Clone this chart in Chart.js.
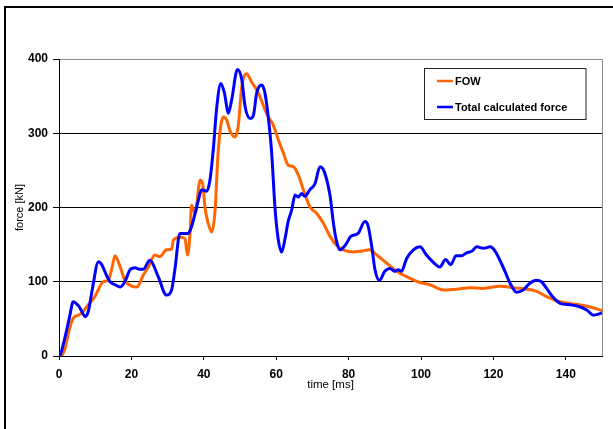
<!DOCTYPE html>
<html>
<head>
<meta charset="utf-8">
<script src="https://cdn.jsdelivr.net/npm/chart.js@4/dist/chart.umd.min.js"></script>
<style>
  html, body { margin: 0; padding: 0; background: #fff; }
  #wrap { position: relative; width: 613px; height: 429px; }
</style>
</head>
<body>
<div id="wrap"><canvas id="c" width="613" height="429"></canvas></div>
<script>
// FOW measurement: time [ms] and force [kN]
const fowTime = [0, 0.8, 1.7, 2.8, 3.95, 5.8, 8.1, 9.9, 12.2, 13.6, 14.6, 15.5, 16.9, 18.2, 20.1, 21.5, 23.3, 24.7, 26.5, 27.9, 29.7, 31.1, 31.6, 33.4, 34.8, 35.5, 36.2, 36.6, 37.6, 39, 39.8, 40.3, 41.2, 42.2, 43.1, 44, 45.4, 46.3, 47.2, 48.6, 49.5, 50.5, 51.8, 53.2, 55.1, 56.4, 57.8, 59.2, 60.6, 62, 63.3, 64.7, 66.1, 67.5, 69.3, 71.2, 73, 74.9, 76.7, 78.5, 81.3, 83.1, 85.9, 87.8, 90.5, 93.3, 96, 99.7, 102.5, 106.2, 109.9, 113.5, 117.2, 121.8, 125.5, 129.2, 131.9, 134.7, 138.4, 142.1, 144.9, 147.5, 150];
const fowForce = [0, 1, 11, 35, 51, 56, 69, 80, 100, 102, 118, 135, 120, 102, 94, 93, 109, 120, 136, 134, 143, 144, 156, 160, 158, 136, 165, 203, 192, 237, 228, 201, 179, 167, 195, 277, 322, 318, 304, 295, 309, 363, 380, 369, 354, 338, 322, 311, 291, 273, 257, 255, 244, 224, 201, 192, 179, 161, 149, 143, 140, 141, 143, 136, 125, 114, 107, 99, 96, 89, 90, 92, 91, 94, 92, 90, 87, 80, 73, 70, 68, 65, 61];

// Total calculated force: time [ms] and force [kN]
const totalTime = [0, 0.3, 1.5, 2.8, 3.95, 4.9, 5.5, 6.3, 7.2, 8.1, 9.2, 10.9, 11.8, 13, 14.1, 15.5, 16.9, 18.2, 19.6, 21, 22.2, 23.3, 25.1, 27.4, 29.7, 31.1, 32, 33.4, 35.7, 36.6, 37.6, 38.5, 39.4, 40.8, 41.7, 42.6, 43.6, 44.7, 45.7, 46.8, 47.7, 49.3, 50.5, 51.4, 52.8, 53.7, 54.6, 56, 56.9, 57.8, 58.7, 59.7, 60.6, 61.5, 62.4, 63.3, 64.3, 65.2, 66.1, 67, 67.9, 69.3, 70.7, 72.1, 73.3, 74.9, 75.8, 76.7, 77.6, 79.2, 80.6, 82.6, 84.5, 85.4, 86.4, 87.3, 88.5, 90, 91.4, 92.8, 93.7, 94.6, 96, 97.9, 99.7, 101.5, 103.4, 105.2, 106.8, 108.2, 109.7, 111.2, 112.6, 114, 115.4, 117.3, 119.1, 120.5, 121.8, 123.2, 124.6, 126.4, 128.2, 130.1, 131.8, 133.3, 134.7, 136.5, 138.4, 141.2, 143.4, 145.8, 147.6, 149.4, 150];
const totalForce = [0, 1, 22, 50, 73, 70, 67, 60, 53, 60, 90, 127, 123, 110, 100, 96, 93, 100, 116, 119, 117, 117, 129, 107, 82, 89, 116, 165, 165, 174, 192, 210, 224, 222, 237, 277, 336, 367, 354, 327, 345, 386, 372, 336, 320, 324, 354, 365, 354, 322, 277, 197, 156, 140, 157, 181, 197, 217, 214, 219, 215, 224, 232, 255, 248, 215, 179, 154, 143, 150, 161, 165, 181, 175, 147, 116, 102, 114, 118, 114, 116, 114, 131, 143, 147, 136, 126, 120, 130, 123, 135, 135, 139, 141, 147, 145, 147, 141, 129, 114, 98, 86, 89, 98, 102, 100, 91, 79, 71, 69, 67, 62, 55, 57, 58];

// Axis tick values
const timeTicks = [0, 20, 40, 60, 80, 100, 120, 140];
const forceTicks = [0, 100, 200, 300, 400];

const seriesNames = ['FOW', 'Total calculated force'];
const seriesColors = ['#ff6600', '#0000ff'];

const toPoints = (xs, ys) => xs.map((x, i) => ({ x: x, y: ys[i] }));

const FONT = '"Liberation Sans", Arial, sans-serif';

// Outer frame and right plot border
const framePlugin = {
  id: 'frame',
  beforeDraw(chart) {
    const ctx = chart.ctx;
    ctx.save();
    ctx.fillStyle = '#fff';
    ctx.fillRect(0, 0, chart.width, chart.height);
    ctx.strokeStyle = '#000';
    ctx.lineWidth = 2;
    ctx.beginPath();
    ctx.moveTo(5, chart.height + 2);
    ctx.lineTo(5, 7);
    ctx.lineTo(chart.width + 2, 7);
    ctx.stroke();
    ctx.restore();
  },
  afterDatasetsDraw(chart) {
    const { ctx, chartArea: a } = chart;
    ctx.save();
    ctx.strokeStyle = '#8c8c8c';
    ctx.lineWidth = 1;
    ctx.beginPath();
    ctx.moveTo(a.right + 0.5, a.top);
    ctx.lineTo(a.right + 0.5, a.bottom);
    ctx.stroke();
    ctx.restore();
  }
};

// Boxed legend inside the plot area
const boxLegendPlugin = {
  id: 'boxLegend',
  afterDraw(chart) {
    const { ctx, chartArea: a } = chart;
    const x0 = a.right - 178, y0 = a.top + 9, w = 161.5, h = 51;
    ctx.save();
    ctx.fillStyle = '#fff';
    ctx.fillRect(x0, y0, w, h);
    ctx.strokeStyle = '#222';
    ctx.lineWidth = 1;
    ctx.strokeRect(x0 + 0.5, y0 + 0.5, w, h);
    ctx.font = 'bold 11px ' + FONT;
    ctx.textBaseline = 'middle';
    ctx.fillStyle = '#000';
    const rows = [y0 + 13, y0 + 39];
    seriesNames.forEach((name, i) => {
      ctx.strokeStyle = seriesColors[i];
      ctx.lineWidth = 2.5;
      ctx.beginPath();
      ctx.moveTo(x0 + 13, rows[i]);
      ctx.lineTo(x0 + 29, rows[i]);
      ctx.stroke();
      ctx.fillText(name, x0 + 31, rows[i] + 0.5);
    });
    ctx.restore();
  }
};

new Chart(document.getElementById('c'), {
  type: 'line',
  data: {
    datasets: [
      {
        label: seriesNames[0],
        data: toPoints(fowTime, fowForce),
        borderColor: seriesColors[0],
        borderWidth: 3,
        pointRadius: 0,
        cubicInterpolationMode: 'monotone',
        order: 1
      },
      {
        label: seriesNames[1],
        data: toPoints(totalTime, totalForce),
        borderColor: seriesColors[1],
        borderWidth: 3,
        pointRadius: 0,
        cubicInterpolationMode: 'monotone',
        order: 0
      }
    ]
  },
  options: {
    responsive: false,
    animation: false,
    devicePixelRatio: 1,
    layout: { padding: { left: 13.4, top: 59, right: 11, bottom: 37.4 } },
    plugins: { legend: { display: false }, tooltip: { enabled: false } },
    scales: {
      x: {
        type: 'linear',
        min: 0,
        max: 150,
        afterBuildTicks(scale) { scale.ticks = timeTicks.map(v => ({ value: v })); },
        afterFit(scale) { scale.height = 35.6; },
        border: { color: '#000', width: 1 },
        grid: { drawOnChartArea: false, drawTicks: true, tickLength: 4, tickColor: '#000' },
        ticks: { color: '#000', padding: 7, font: { family: FONT, size: 12, weight: 'bold' }, maxRotation: 0 },
        title: { display: true, text: 'time [ms]', color: '#000', padding: 0, font: { family: FONT, size: 11.5 } }
      },
      y: {
        min: 0,
        max: 400,
        afterBuildTicks(scale) { scale.ticks = forceTicks.map(v => ({ value: v })); },
        afterFit(scale) { scale.width = 45.6; },
        border: { color: '#000', width: 1 },
        grid: {
          color: ctx => (ctx.tick && ctx.tick.value === 400 ? '#8c8c8c' : '#000'),
          tickColor: '#000',
          tickLength: 6,
          lineWidth: 1
        },
        ticks: { color: '#000', padding: 5, font: { family: FONT, size: 12, weight: 'bold' } },
        title: { display: true, text: 'force [kN]', color: '#000', padding: 0, font: { family: FONT, size: 11 } }
      }
    }
  },
  plugins: [framePlugin, boxLegendPlugin]
});
</script>
</body>
</html>
